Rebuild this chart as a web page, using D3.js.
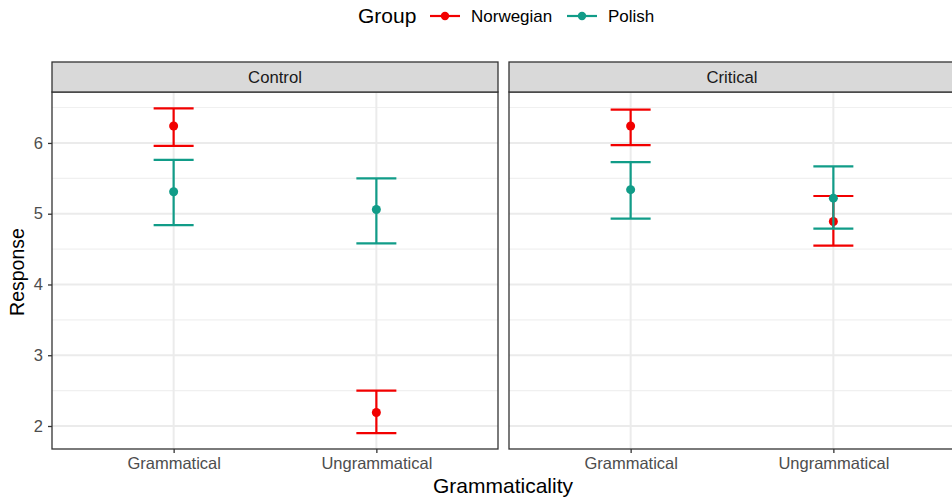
<!DOCTYPE html>
<html>
<head>
<meta charset="utf-8">
<script src="https://cdn.jsdelivr.net/npm/d3@7"></script>
<style>
  body { margin: 0; background: #fff; }
  svg { display: block; font-family: "Liberation Sans", Arial, sans-serif; }
</style>
</head>
<body>
<svg id="chart" width="952" height="501"></svg>
<script>
// Facets, categories and groups
const panels = ["Control", "Critical"];
const categories = ["Grammatical", "Ungrammatical"];
const groups = ["Norwegian", "Polish"];
const groupColors = ["#f20000", "#119c88"];
const yTicks = [2, 3, 4, 5, 6];

// Mean response and interval bounds, per panel, category, group
const controlNorwegianMean  = [6.24, 2.19];
const controlNorwegianLow   = [5.96, 1.90];
const controlNorwegianHigh  = [6.49, 2.50];
const controlPolishMean     = [5.31, 5.06];
const controlPolishLow      = [4.84, 4.58];
const controlPolishHigh     = [5.76, 5.50];
const criticalNorwegianMean = [6.24, 4.89];
const criticalNorwegianLow  = [5.97, 4.55];
const criticalNorwegianHigh = [6.47, 5.25];
const criticalPolishMean    = [5.34, 5.22];
const criticalPolishLow     = [4.93, 4.79];
const criticalPolishHigh    = [5.73, 5.67];

const series = {
  Control: {
    Norwegian: [controlNorwegianMean, controlNorwegianLow, controlNorwegianHigh],
    Polish: [controlPolishMean, controlPolishLow, controlPolishHigh]
  },
  Critical: {
    Norwegian: [criticalNorwegianMean, criticalNorwegianLow, criticalNorwegianHigh],
    Polish: [criticalPolishMean, criticalPolishLow, criticalPolishHigh]
  }
};

const svg = d3.select("#chart");
const panelW = 446, panelTop = 92, panelBottom = 449, stripH = 30;
const panelLefts = [52, 509];
const tickFont = 16.5;

const y = d3.scaleLinear().domain([1.675, 6.72]).range([panelBottom, panelTop]);
const color = d3.scaleOrdinal().domain(groups).range(groupColors);

panels.forEach((panel, pi) => {
  const left = panelLefts[pi];
  // discrete axis: 0.6 units of padding beyond each outer category
  const x = d3.scalePoint().domain(categories).range([left, left + panelW]).padding(0.6);
  const g = svg.append("g");

  // minor gridlines
  const minor = d3.range(1.5, 7, 1).filter(v => v > y.domain()[0] && v < y.domain()[1]);
  g.selectAll("line.minor").data(minor).join("line")
    .attr("x1", left).attr("x2", left + panelW)
    .attr("y1", d => y(d)).attr("y2", d => y(d))
    .attr("stroke", "#f0f0f0").attr("stroke-width", 1.1);
  // major gridlines
  g.selectAll("line.major").data(yTicks).join("line")
    .attr("x1", left).attr("x2", left + panelW)
    .attr("y1", d => y(d)).attr("y2", d => y(d))
    .attr("stroke", "#ebebeb").attr("stroke-width", 2);
  g.selectAll("line.vmajor").data(categories).join("line")
    .attr("x1", d => x(d)).attr("x2", d => x(d))
    .attr("y1", panelTop).attr("y2", panelBottom)
    .attr("stroke", "#ebebeb").attr("stroke-width", 2);

  // error bars and points
  groups.forEach(grp => {
    const [mean, low, high] = series[panel][grp];
    const c = color(grp);
    const gg = g.append("g");
    categories.forEach((cat, ci) => {
      const cx = x(cat);
      gg.append("line").attr("x1", cx).attr("x2", cx)
        .attr("y1", y(low[ci])).attr("y2", y(high[ci]))
        .attr("stroke", c).attr("stroke-width", 2.2);
      [low[ci], high[ci]].forEach(v => {
        gg.append("line").attr("x1", cx - 20).attr("x2", cx + 20)
          .attr("y1", y(v)).attr("y2", y(v))
          .attr("stroke", c).attr("stroke-width", 2.2);
      });
      gg.append("circle").attr("cx", cx).attr("cy", y(mean[ci])).attr("r", 4.5).attr("fill", c);
    });
  });

  // panel border
  g.append("rect").attr("x", left).attr("y", panelTop).attr("width", panelW)
    .attr("height", panelBottom - panelTop).attr("fill", "none")
    .attr("stroke", "#333").attr("stroke-width", 1.3);

  // strip
  g.append("rect").attr("x", left).attr("y", panelTop - stripH).attr("width", panelW)
    .attr("height", stripH).attr("fill", "#d9d9d9").attr("stroke", "#333").attr("stroke-width", 1.3);
  g.append("text").attr("x", left + panelW / 2).attr("y", panelTop - stripH / 2 + 6)
    .attr("text-anchor", "middle").attr("font-size", 16.7).attr("fill", "#1a1a1a").text(panel);

  // x axis
  const xa = svg.append("g").attr("transform", `translate(0,${panelBottom})`)
    .call(d3.axisBottom(x).tickSize(4).tickPadding(4));
  xa.select(".domain").remove();
  xa.selectAll(".tick line").attr("stroke", "#333").attr("stroke-width", 1.3);
  xa.selectAll(".tick text").attr("font-size", tickFont).attr("fill", "#4d4d4d")
    .attr("font-family", "Liberation Sans, Arial, sans-serif");

  if (pi === 0) {
    const ya = svg.append("g").attr("transform", `translate(${left},0)`)
      .call(d3.axisLeft(y).tickValues(yTicks).tickFormat(d3.format("d")).tickSize(4).tickPadding(5));
    ya.select(".domain").remove();
    ya.selectAll(".tick line").attr("stroke", "#333").attr("stroke-width", 1.3);
    ya.selectAll(".tick text").attr("font-size", tickFont).attr("fill", "#4d4d4d")
      .attr("font-family", "Liberation Sans, Arial, sans-serif");
  }
});

// axis titles
svg.append("text").attr("x", 503).attr("y", 493).attr("text-anchor", "middle")
  .attr("font-size", 21).attr("fill", "#000").text("Grammaticality");
svg.append("text").attr("transform", `translate(24,272) rotate(-90)`)
  .attr("text-anchor", "middle").attr("font-size", 19.5).attr("fill", "#000").text("Response");

// legend
const lg = svg.append("g");
lg.append("text").attr("x", 358).attr("y", 23).attr("font-size", 21).attr("fill", "#000").text("Group");
const keyX = [430, 567];
groups.forEach((grp, i) => {
  const kx = keyX[i];
  lg.append("line").attr("x1", kx).attr("x2", kx + 30).attr("y1", 16).attr("y2", 16)
    .attr("stroke", color(grp)).attr("stroke-width", 2.2);
  lg.append("circle").attr("cx", kx + 15).attr("cy", 16).attr("r", 4.2).attr("fill", color(grp));
  lg.append("text").attr("x", kx + 41).attr("y", 22).attr("font-size", 17).attr("fill", "#000").text(grp);
});
</script>
</body>
</html>
